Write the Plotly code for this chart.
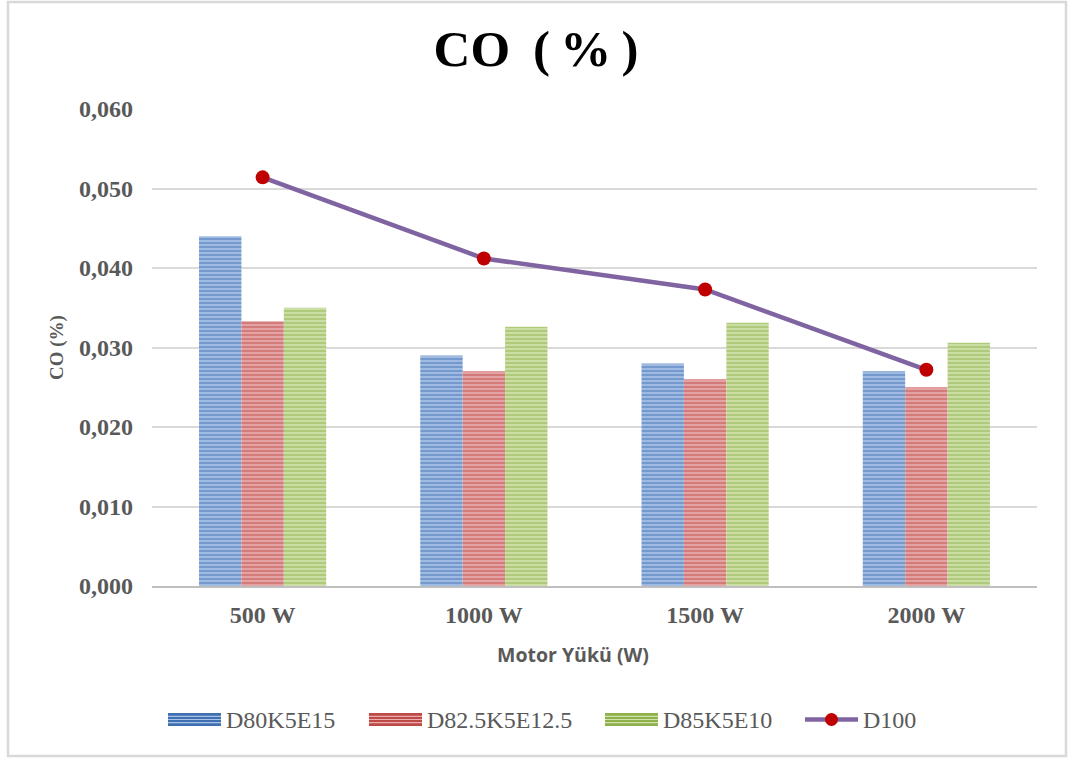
import plotly.graph_objects as go

# Engine load categories and CO emission (%) per fuel blend
categories = ["500 W", "1000 W", "1500 W", "2000 W"]
d80k5e15 = [0.044, 0.029, 0.028, 0.027]
d825k5e125 = [0.0333, 0.027, 0.026, 0.025]
d85k5e10 = [0.035, 0.0326, 0.0331, 0.0306]
d100 = [0.0514, 0.0412, 0.0373, 0.0272]
y_ticks = [0.0, 0.01, 0.02, 0.03, 0.04, 0.05, 0.06]
y_tick_text = ["0,000", "0,010", "0,020", "0,030", "0,040", "0,050", "0,060"]

SERIF = "Liberation Serif, Times New Roman, serif"
SANS = "Open Sans, Liberation Sans, sans-serif"
GREY = "#595959"

# plot-area geometry in pixels (used to place the hand-drawn legend and frame)
W, H = 1068, 758
ML, MR, MT, MB = 152, 31, 109, 172
PW, PH = W - ML - MR, H - MT - MB


def px_x(x):
    return (x - ML) / PW


def px_y(y):
    return (H - MB - y) / PH


bar_styles = [
    ("D80K5E15", d80k5e15, "#4170B2", "#A9C3E8"),
    ("D82.5K5E12.5", d825k5e125, "#BE4A47", "#E8ADAC"),
    ("D85K5E10", d85k5e10, "#8FB14A", "#D0E2AF"),
]

fig = go.Figure()
for name, values, fg, bg in bar_styles:
    fig.add_trace(
        go.Bar(
            name=name,
            x=categories,
            y=values,
            marker=dict(
                color=bg,
                line=dict(width=0),
                pattern=dict(shape="-", fgcolor=fg, bgcolor=bg, size=4, solidity=0.6),
            ),
            showlegend=False,
        )
    )

line_color, marker_color = "#8064A2", "#C00000"
fig.add_trace(
    go.Scatter(
        name="D100",
        x=categories,
        y=d100,
        mode="lines+markers",
        line=dict(color=line_color, width=4.5),
        marker=dict(color=marker_color, size=14),
        showlegend=False,
    )
)

# frame around the whole chart
shapes = [
    dict(
        type="rect", xref="paper", yref="paper",
        x0=px_x(8), x1=px_x(1066), y0=px_y(756), y1=px_y(2),
        line=dict(color="#D9D9D9", width=2.5),
        fillcolor="rgba(0,0,0,0)", layer="below",
    )
]
annotations = []

# legend: striped swatches for the bars, line + dot for D100
legend_y = 719.5
swatch_x = [168, 369, 605]
for (name, _, fg, bg), sx in zip(bar_styles, swatch_x):
    shapes.append(dict(
        type="rect", xref="paper", yref="paper",
        x0=px_x(sx), x1=px_x(sx + 53), y0=px_y(legend_y + 6.5), y1=px_y(legend_y - 6.5),
        line=dict(width=0), fillcolor=fg,
    ))
    for dy in (-3.2, 0, 3.2):
        shapes.append(dict(
            type="line", xref="paper", yref="paper",
            x0=px_x(sx), x1=px_x(sx + 53), y0=px_y(legend_y + dy), y1=px_y(legend_y + dy),
            line=dict(color=bg, width=1.2),
        ))
    annotations.append(dict(
        xref="paper", yref="paper", x=px_x(sx + 56), y=px_y(legend_y),
        xanchor="left", yanchor="middle", showarrow=False,
        text=name, font=dict(family=SERIF, size=24, color=GREY),
    ))

shapes.append(dict(
    type="line", xref="paper", yref="paper",
    x0=px_x(805), x1=px_x(858), y0=px_y(legend_y), y1=px_y(legend_y),
    line=dict(color=line_color, width=4.5),
))
shapes.append(dict(
    type="circle", xref="paper", yref="paper",
    x0=px_x(831.5 - 6.5), x1=px_x(831.5 + 6.5), y0=px_y(legend_y + 6.5), y1=px_y(legend_y - 6.5),
    line=dict(width=0), fillcolor=marker_color,
))
annotations.append(dict(
    xref="paper", yref="paper", x=px_x(861), y=px_y(legend_y),
    xanchor="left", yanchor="middle", showarrow=False,
    text="D100", font=dict(family=SERIF, size=24, color=GREY),
))

# x-axis title
annotations.append(dict(
    xref="paper", yref="paper", x=px_x(573), y=px_y(654),
    xanchor="center", yanchor="middle", showarrow=False,
    text="<b>Motor Yükü (W)</b>", font=dict(family=SANS, size=19.5, color=GREY),
))

fig.update_layout(
    width=W,
    height=H,
    paper_bgcolor="white",
    plot_bgcolor="white",
    margin=dict(l=ML, r=MR, t=MT, b=MB),
    barmode="group",
    bargap=0.425,
    bargroupgap=0,
    showlegend=False,
    title=dict(
        text="<b>CO\u00a0\u2009(\u2009%\u2009)</b>",
        x=536 / W,
        xanchor="center",
        y=1 - 48 / H,
        yanchor="middle",
        font=dict(family=SERIF, size=51, color="black"),
    ),
    xaxis=dict(
        tickfont=dict(family=SERIF, size=24, color=GREY),
        ticklabelstandoff=6,
        tickprefix="<b>",
        ticksuffix="</b>",
        showline=True,
        linecolor="#BFBFBF",
        linewidth=2,
        showgrid=False,
    ),
    yaxis=dict(
        title=dict(
            text="<b>CO (%)</b>",
            font=dict(family=SERIF, size=19, color=GREY),
            standoff=10,
        ),
        range=[0, 0.06],
        tickvals=y_ticks,
        ticktext=["<b>" + t + "</b>" for t in y_tick_text],
        tickfont=dict(family=SERIF, size=24, color=GREY),
        ticklabelstandoff=18,
        showgrid=True,
        gridcolor="#D9D9D9",
        gridwidth=2,
        zeroline=False,
    ),
    shapes=shapes,
    annotations=annotations,
)

fig.write_html("out.html")
